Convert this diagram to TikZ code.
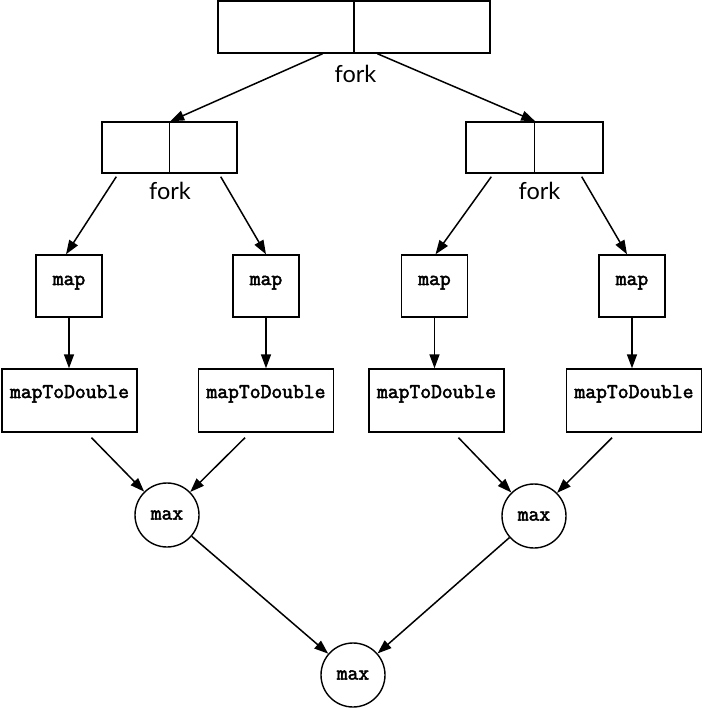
\documentclass[tikz,border=0pt]{standalone}
\usepackage{fontspec}
\setmainfont{Lato}
\newfontfamily\codefont[FakeBold=2.5]{Latin Modern Mono}
\usetikzlibrary{arrows.meta}
\tikzset{
  codefnt/.style={font=\codefont\fontsize{21}{23}\selectfont},
  half/.style={draw, line width=1.4pt, minimum width=136pt, minimum height=52pt, inner sep=0pt},
  fhalf/.style={draw, line width=1.4pt, minimum height=51pt, inner sep=0pt},
  mapbox/.style={draw, line width=1.4pt, minimum width=66pt, inner xsep=0pt, inner ysep=0pt,
     text height=30pt, text depth=32pt, codefnt},
  mtdbox/.style={draw, line width=1.4pt, minimum width=135pt, inner xsep=0pt, inner ysep=0pt,
     text height=29pt, text depth=34pt, codefnt},
  maxnode/.style={draw, circle, line width=1.4pt, minimum size=64pt, inner sep=0pt, codefnt},
  forklabel/.style={anchor=base, inner sep=0pt, font=\fontsize{23.5}{26}\selectfont},
  arr/.style={line width=1.5pt, -{Triangle[length=14pt,width=10pt]}}
}
\begin{document}
\begin{tikzpicture}[x=1pt,y=-1pt]
\useasboundingbox (0,0) rectangle (703,708);
% top fork
\node[half] (topA) at (286,27) {};
\node[half] (topB) at (422,27) {};
\node[forklabel] (fork0) at (355.5,83) {fork};
% left fork
\node[fhalf, minimum width=67.5pt] (f1a) at (135.75,147.5) {};
\node[fhalf, minimum width=67.5pt] (f1b) at (203.25,147.5) {};
\node[forklabel] (fork1) at (170,200) {fork};
% right fork
\node[fhalf, minimum width=68.5pt] (f2a) at (500.25,147.5) {};
\node[fhalf, minimum width=68.5pt] (f2b) at (568.75,147.5) {};
\node[forklabel] (fork2) at (539.5,200) {fork};
% maps
\node[mapbox] (map1) at (69,286) {map};
\node[mapbox] (map2) at (266,286) {map};
\node[mapbox] (map3) at (434.5,286) {map};
\node[mapbox] (map4) at (632,286) {map};
% mapToDouble
\node[mtdbox] (mtd1) at (69.5,400.5) {mapToDouble};
\node[mtdbox] (mtd2) at (266,400.5) {mapToDouble};
\node[mtdbox] (mtd3) at (436.5,400.5) {mapToDouble};
\node[mtdbox] (mtd4) at (634,400.5) {mapToDouble};
% max
\node[maxnode] (max1) at (167,515) {max};
\node[maxnode] (max2) at (534,516) {max};
\node[maxnode] (maxB) at (353,675) {max};
% connectors
\draw[arr] ([xshift=-32pt]topA.south east) -- (f1a.north east);
\draw[arr] ([xshift=24pt]topB.south west) -- (f2a.north east);
\draw[arr] ([xshift=15pt,yshift=-3pt]f1a.south west) -- ([xshift=-3pt]map1.north);
\draw[arr] ([xshift=-17pt,yshift=-3pt]f1b.south east) -- (map2.north);
\draw[arr] ([xshift=26pt,yshift=-3pt]f2a.south west) -- ([xshift=1pt]map3.north);
\draw[arr] ([xshift=-22pt,yshift=-3pt]f2b.south east) -- ([xshift=-5pt]map4.north);
\draw[arr] (map1.south) -- (map1.south |- mtd1.north);
\draw[arr] (map2.south) -- (map2.south |- mtd2.north);
\draw[arr] (map3.south) -- (map3.south |- mtd3.north);
\draw[arr] (map4.south) -- (map4.south |- mtd4.north);
\draw[arr] ([xshift=22pt,yshift=-5pt]mtd1.south) -- (max1);
\draw[arr] ([xshift=-21pt,yshift=-5pt]mtd2.south) -- (max1);
\draw[arr] ([xshift=22pt,yshift=-5pt]mtd3.south) -- (max2);
\draw[arr] ([xshift=-22pt,yshift=-5pt]mtd4.south) -- (max2);
\draw[arr] (max1) -- (maxB);
\draw[arr] (max2) -- (maxB);
\end{tikzpicture}
\end{document}
